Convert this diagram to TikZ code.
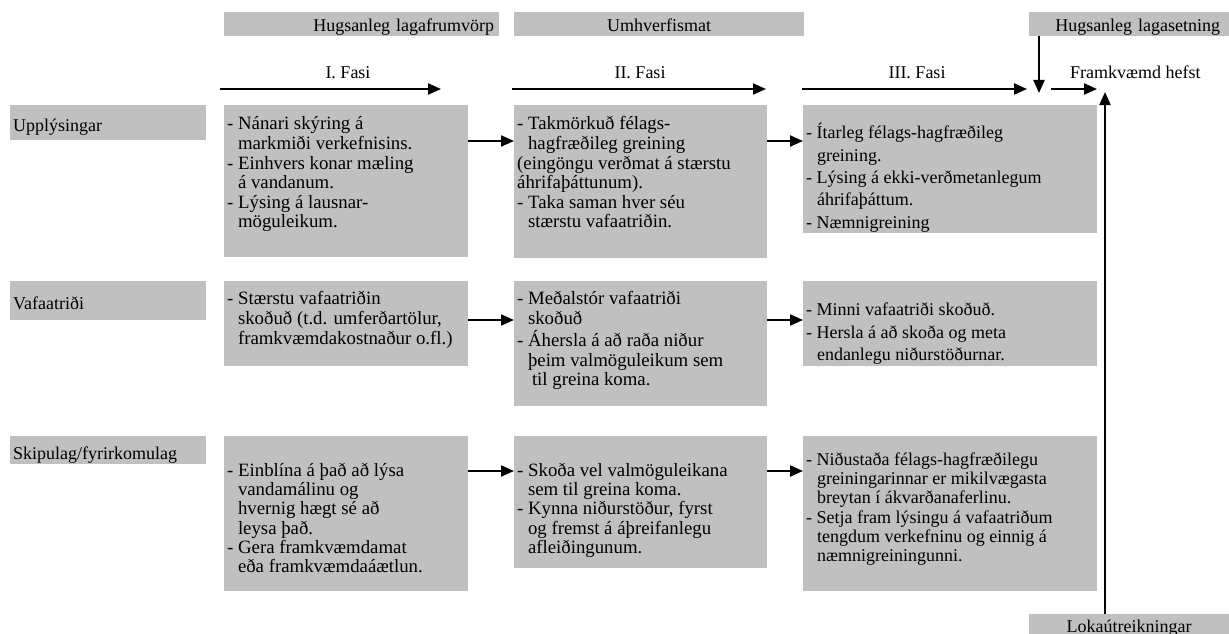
\documentclass[tikz,border=0pt]{standalone}
\usepackage{fontspec}
\setmainfont{Liberation Serif}
\usetikzlibrary{arrows.meta}
\definecolor{cellgray}{RGB}{192,192,192}
% hanging indent for continuation lines of a bullet
\newcommand\hgap{\hspace*{10.8pt}}
% #1 width, #2 height, #3 top padding, #4 font size, #5 line pitch, #6 lines
\newcommand\cellbox[6]{\parbox[t][#2pt][t]{#1pt}{\fontsize{#4}{#5}\selectfont\vspace*{#3pt}\noindent\hspace*{3pt}\begin{tabular}[t]{@{}l@{}}#6\end{tabular}}}
\begin{document}
\begin{tikzpicture}[x=1pt,y=-1pt,
  cell/.style={fill=cellgray, inner sep=0pt, anchor=north west},
  head/.style={fill=cellgray, anchor=north west, inner ysep=0pt,
    text height=14pt, text depth=0pt, font=\fontsize{18}{20}\selectfont},
  rowlabel/.style={fill=cellgray, anchor=north west, inner ysep=0pt, inner xsep=3pt,
    text width=190pt, align=left, text height=17pt, text depth=0pt,
    font=\fontsize{18}{20}\selectfont},
  phase/.style={anchor=base, inner sep=0pt, font=\fontsize{18}{20}\selectfont},
  arr/.style={line width=2pt, -{Triangle[length=13pt,width=11pt]}}]
\useasboundingbox (0,0) rectangle (1229,634);

% header bars
\node[head, minimum width=275pt, minimum height=24pt, text width=265pt, inner xsep=5pt, align=right]
  (b1) at (224,12) {Hugsanleg lagafrumvörp};
\node[head, minimum width=290pt, minimum height=24pt, text width=280pt, inner xsep=5pt, align=center]
  (b2) at (514,12) {Umhverfismat};
\node[head, minimum width=200pt, minimum height=24pt, text width=182pt, inner xsep=9pt, align=right]
  (b3) at (1029,12) {Hugsanleg lagasetning};

% phase labels and phase arrows
\node[phase] (f1) at (348,78) {I. Fasi};
\node[phase] (f2) at (640,78) {II. Fasi};
\node[phase] (f3) at (917,78) {III. Fasi};
\node[phase, anchor=base west] (fh) at (1070,78) {Framkvæmd hefst};
\coordinate (p1a) at (220,89);  \coordinate (p1b) at (441,89);
\coordinate (p2a) at (512,89);  \coordinate (p2b) at (766,89);
\coordinate (p3a) at (802,89);  \coordinate (p3b) at (1027,89);
\coordinate (fsa) at (1051,89); \coordinate (fsb) at (1097,89);
\coordinate (down) at (1039,93);
\coordinate (up) at (1105,92);
\draw[arr] (p1a) -- (p1b);
\draw[arr] (p2a) -- (p2b);
\draw[arr] (p3a) -- (p3b);
\draw[arr] (fsa) -- (fsb);
\draw[arr] (b3.south -| down) -- (down);

% row labels
\node[rowlabel, minimum width=196pt, minimum height=35pt] (l1) at (10,105) {Upplýsingar};
\node[rowlabel, minimum width=196pt, minimum height=39pt] (l2) at (10,281) {Vafaatriði};
\node[rowlabel, minimum width=196pt, minimum height=28pt, text height=18pt] (l3) at (10,436) {Skipulag/fyrirkomulag};

% row 1
\node[cell] (c11) at (224,105) {\cellbox{244}{152}{11}{18.8}{19.6}{%
- Nánari skýring á\\ \hgap markmiði verkefnisins.\\
- Einhvers konar mæling\\ \hgap á vandanum.\\
- Lýsing á lausnar-\\ \hgap möguleikum.}};
\node[cell] (c21) at (514,105) {\cellbox{253}{153}{11}{18.8}{19.6}{%
- Takmörkuð félags-\\ \hgap hagfræðileg greining\\
(eingöngu verðmat á stærstu\\ áhrifaþáttunum).\\
- Taka saman hver séu\\ \hgap stærstu vafaatriðin.}};
\node[cell] (c31) at (803,105) {\cellbox{294}{128}{18}{18}{22.3}{%
- Ítarleg félags-hagfræðileg\\ \hgap greining.\\
- Lýsing á ekki-verðmetanlegum\\ \hgap áhrifaþáttum.\\
- Næmnigreining}};

% row 2
\node[cell] (c12) at (224,281) {\cellbox{244}{85}{10}{18.8}{19.6}{%
- Stærstu vafaatriðin\\ \hgap skoðuð (t.d. umferðartölur,\\
\hgap framkvæmdakostnaður o.fl.)}};
\node[cell] (c22) at (514,281) {\cellbox{253}{125}{10}{18.8}{19.6}{%
- Meðalstór vafaatriði\\ \hgap skoðuð\\
- Áhersla á að raða niður\\ \hgap þeim valmöguleikum sem\\
\hgap\hspace*{4pt}til greina koma.}};
\node[cell] (c32) at (803,281) {\cellbox{294}{85}{19}{18}{22.3}{%
- Minni vafaatriði skoðuð.\\
- Hersla á að skoða og meta\\ \hgap endanlegu niðurstöðurnar.}};

% row 3
\node[cell] (c13) at (224,436) {\cellbox{244}{155}{26.5}{18.8}{19.3}{%
- Einblína á það að lýsa\\ \hgap vandamálinu og\\
\hgap hvernig hægt sé að\\ \hgap leysa það.\\
- Gera framkvæmdamat\\ \hgap eða framkvæmdaáætlun.}};
\node[cell] (c23) at (514,436) {\cellbox{253}{132}{26.5}{18.8}{19.3}{%
- Skoða vel valmöguleikana\\ \hgap sem til greina koma.\\
- Kynna niðurstöður, fyrst\\ \hgap og fremst á áþreifanlegu\\
\hgap afleiðingunum.}};
\node[cell] (c33) at (803,436) {\cellbox{294}{155}{15.5}{18}{19.3}{%
- Niðustaða félags-hagfræðilegu\\ \hgap greiningarinnar er mikilvægasta\\
\hgap breytan í ákvarðanaferlinu.\\
- Setja fram lýsingu á vafaatriðum\\ \hgap tengdum verkefninu og einnig á\\
\hgap næmnigreiningunni.}};

% final calculations bar
\node[head, minimum width=200pt, minimum height=20pt, text height=16pt, text width=190pt, align=center]
  (lok) at (1029,614) {Lokaútreikningar};

% arrows between the columns
\draw[arr] ([yshift=-36pt]c11.north east) -- ([yshift=-36pt]c21.north west);
\draw[arr] ([yshift=-36pt]c21.north east) -- ([yshift=-36pt]c31.north west);
\draw[arr] ([yshift=-39pt]c12.north east) -- ([yshift=-39pt]c22.north west);
\draw[arr] ([yshift=-39pt]c22.north east) -- ([yshift=-39pt]c32.north west);
\draw[arr] ([yshift=-35pt]c13.north east) -- ([yshift=-35pt]c23.north west);
\draw[arr] ([yshift=-35pt]c23.north east) -- ([yshift=-35pt]c33.north west);
\draw[arr] (lok.north -| up) -- (up);
\end{tikzpicture}
\end{document}
